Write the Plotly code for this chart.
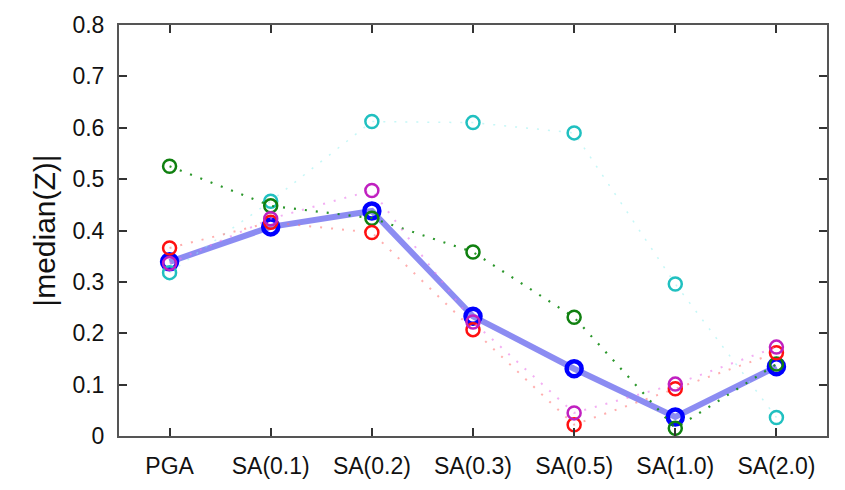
import plotly.graph_objects as go

categories = ["PGA", "SA(0.1)", "SA(0.2)", "SA(0.3)", "SA(0.5)", "SA(1.0)", "SA(2.0)"]
blue_vals = [0.339, 0.407, 0.438, 0.233, 0.131, 0.037, 0.135]
cyan_vals = [0.318, 0.457, 0.612, 0.610, 0.590, 0.296, 0.036]
green_vals = [0.525, 0.448, 0.424, 0.358, 0.231, 0.015, 0.140]
red_vals = [0.366, 0.416, 0.396, 0.207, 0.022, 0.092, 0.162]
magenta_vals = [0.336, 0.423, 0.478, 0.222, 0.045, 0.101, 0.173]

xs = list(range(len(categories)))

fig = go.Figure()

# thick blue mean line
fig.add_trace(go.Scatter(x=xs, y=blue_vals, mode="lines",
                         line=dict(color="rgba(120,120,240,0.85)", width=6),
                         showlegend=False, hoverinfo="skip"))
fig.add_trace(go.Scatter(x=xs, y=blue_vals, mode="markers",
                         marker=dict(symbol="circle-open", size=15, color="#0000ff",
                                     line=dict(width=4.5, color="#0000ff")),
                         showlegend=False))

series = [
    (cyan_vals, "#20c0c0", "rgba(140,240,240,0.5)", 1.5),
    (green_vals, "#108010", "rgba(20,140,20,0.9)", 2.2),
    (red_vals, "#ff1010", "rgba(255,120,120,0.6)", 2),
    (magenta_vals, "#c020c0", "rgba(235,120,235,0.6)", 2),
]
for vals, mc, lc, w in series:
    fig.add_trace(go.Scatter(x=xs, y=vals, mode="lines",
                             line=dict(color=lc, width=w, dash="2px,9px"),
                             showlegend=False, hoverinfo="skip"))
    fig.add_trace(go.Scatter(x=xs, y=vals, mode="markers",
                             marker=dict(symbol="circle-open", size=13, color=mc,
                                         line=dict(width=2.5, color=mc)),
                             showlegend=False))

axis_common = dict(showgrid=False, zeroline=False, showline=True, linecolor="#555555",
                   linewidth=2, mirror="allticks", ticks="inside", ticklen=8,
                   tickcolor="#333333", tickwidth=1.5,
                   tickfont=dict(family="Liberation Sans, Arial", size=23, color="#111111"))

fig.update_xaxes(range=[-0.5, 6.5], tickmode="array", tickvals=xs, ticktext=categories,
                 ticklabelstandoff=8, **axis_common)
fig.update_yaxes(range=[0, 0.8], tickmode="array",
                 tickvals=[0, 0.1, 0.2, 0.3, 0.4, 0.5, 0.6, 0.7, 0.8],
                 ticktext=["0", "0.1", "0.2", "0.3", "0.4", "0.5", "0.6", "0.7", "0.8"],
                 ticklabelstandoff=8,
                 title=dict(text="|median(Z)|", font=dict(family="Liberation Sans, Arial", size=30, color="#111111"),
                            standoff=8),
                 **axis_common)

fig.update_layout(width=845, height=490, margin=dict(l=119, r=18, t=25, b=54),
                  plot_bgcolor="white", paper_bgcolor="white")

fig.write_html("out.html")
